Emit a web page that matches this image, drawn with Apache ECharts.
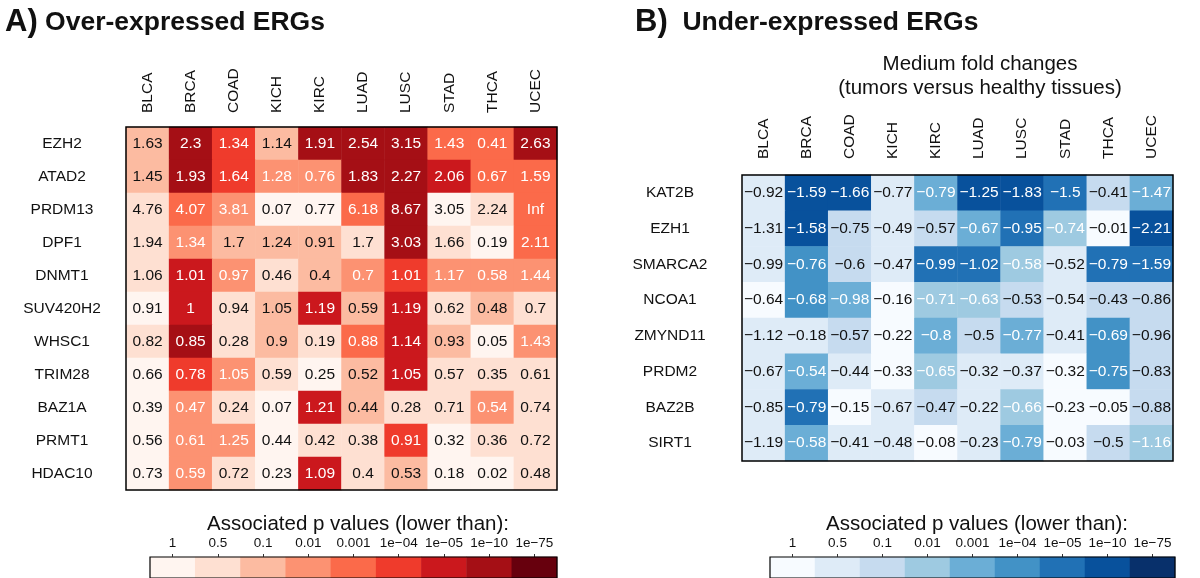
<!DOCTYPE html>
<html><head><meta charset="utf-8">
<script src="https://cdn.jsdelivr.net/npm/echarts@6/dist/echarts.min.js"></script>
<style>html,body{margin:0;padding:0;background:#fff}#c{width:1200px;height:578px}</style>
</head><body><div id="c"></div>
<script>
const cancers = ['BLCA','BRCA','COAD','KICH','KIRC','LUAD','LUSC','STAD','THCA','UCEC'];
const rowsA = ['EZH2','ATAD2','PRDM13','DPF1','DNMT1','SUV420H2','WHSC1','TRIM28','BAZ1A','PRMT1','HDAC10'];
const foldA = [
 ['1.63','2.3','1.34','1.14','1.91','2.54','3.15','1.43','0.41','2.63'],
 ['1.45','1.93','1.64','1.28','0.76','1.83','2.27','2.06','0.67','1.59'],
 ['4.76','4.07','3.81','0.07','0.77','6.18','8.67','3.05','2.24','Inf'],
 ['1.94','1.34','1.7','1.24','0.91','1.7','3.03','1.66','0.19','2.11'],
 ['1.06','1.01','0.97','0.46','0.4','0.7','1.01','1.17','0.58','1.44'],
 ['0.91','1','0.94','1.05','1.19','0.59','1.19','0.62','0.48','0.7'],
 ['0.82','0.85','0.28','0.9','0.19','0.88','1.14','0.93','0.05','1.43'],
 ['0.66','0.78','1.05','0.59','0.25','0.52','1.05','0.57','0.35','0.61'],
 ['0.39','0.47','0.24','0.07','1.21','0.44','0.28','0.71','0.54','0.74'],
 ['0.56','0.61','1.25','0.44','0.42','0.38','0.91','0.32','0.36','0.72'],
 ['0.73','0.59','0.72','0.23','1.09','0.4','0.53','0.18','0.02','0.48']
];
// p-value class (0 = p<1 ... 8 = p<1e-75)
const pClassA = [
 [2,7,5,2,7,7,7,4,4,7],
 [2,7,5,3,3,7,7,6,4,4],
 [1,4,3,0,0,4,7,0,1,4],
 [1,3,2,2,2,1,7,1,0,4],
 [1,6,3,1,2,3,5,3,3,3],
 [0,6,1,2,6,2,6,1,2,1],
 [1,7,1,2,1,4,6,2,0,3],
 [0,5,3,1,0,2,6,1,1,1],
 [0,3,1,0,6,2,1,1,3,1],
 [0,3,3,0,1,1,5,0,1,1],
 [0,3,1,0,6,1,2,0,0,1]
];
const rowsB = ['KAT2B','EZH1','SMARCA2','NCOA1','ZMYND11','PRDM2','BAZ2B','SIRT1'];
const foldB = [
 ['-0.92','-1.59','-1.66','-0.77','-0.79','-1.25','-1.83','-1.5','-0.41','-1.47'],
 ['-1.31','-1.58','-0.75','-0.49','-0.57','-0.67','-0.95','-0.74','-0.01','-2.21'],
 ['-0.99','-0.76','-0.6','-0.47','-0.99','-1.02','-0.58','-0.52','-0.79','-1.59'],
 ['-0.64','-0.68','-0.98','-0.16','-0.71','-0.63','-0.53','-0.54','-0.43','-0.86'],
 ['-1.12','-0.18','-0.57','-0.22','-0.8','-0.5','-0.77','-0.41','-0.69','-0.96'],
 ['-0.67','-0.54','-0.44','-0.33','-0.65','-0.32','-0.37','-0.32','-0.75','-0.83'],
 ['-0.85','-0.79','-0.15','-0.67','-0.47','-0.22','-0.66','-0.23','-0.05','-0.88'],
 ['-1.19','-0.58','-0.41','-0.48','-0.08','-0.23','-0.79','-0.03','-0.5','-1.16']
];
const pClassB = [
 [1,7,7,1,4,7,7,6,2,4],
 [1,7,2,1,2,4,6,3,0,7],
 [1,5,2,1,6,6,3,1,6,6],
 [0,5,4,0,3,3,2,1,2,2],
 [1,1,2,0,4,2,4,1,5,2],
 [1,4,1,0,3,1,1,0,5,2],
 [1,6,0,1,2,1,3,0,0,2],
 [1,4,1,1,0,1,4,0,2,3]
];
const pTicks = ['1','0.5','0.1','0.01','0.001','1e\u221204','1e\u221205','1e\u221210','1e\u221275'];
const reds = ['#FFF5F0','#FEE0D2','#FCBBA1','#FC9272','#FB6A4A','#EF3B2C','#CB181D','#A50F15','#67000D'];
const blues = ['#F7FBFF','#DEEBF7','#C6DBEF','#9ECAE1','#6BAED6','#4292C6','#2171B5','#08519C','#08306B'];

const FF = '"Liberation Sans", Arial, Helvetica, sans-serif';
function cells(fold, cls){
  const out=[];
  fold.forEach((r,i)=>r.forEach((v,j)=>{
    const c=cls[i][j];
    out.push({value:[j,i,c,v.replace('-','\u2212')], label:{color: c>=3?'#fff':'#111'}});
  }));
  return out;
}
const legendData = pTicks.map((t,i)=>[i,0,i]);

const chart = echarts.init(document.getElementById('c'), null, {renderer:'canvas'});
const gridBase = {show:true, borderColor:'#000', borderWidth:1.5, backgroundColor:'transparent', z:10};
const catX = (data, margin, fs) => ({type:'category', data, position:'top', axisLine:{show:false}, axisTick:{show:false}, splitLine:{show:false},
  axisLabel:{rotate:-90, margin, fontSize:fs, color:'#111', fontFamily:FF, interval:0}});
const catY = (data, margin) => ({type:'category', data, inverse:true, axisLine:{show:false}, axisTick:{show:false}, splitLine:{show:false},
  axisLabel:{margin, align:'center', fontSize:15.5, color:'#111', fontFamily:FF, interval:0}});
const legX = () => ({type:'category', data:pTicks, position:'top', axisLine:{show:false},
  axisTick:{show:true, alignWithLabel:true, length:3, interval:0, lineStyle:{color:'#333'}}, splitLine:{show:false},
  axisLabel:{margin:7, fontSize:13.5, color:'#111', fontFamily:FF, interval:0}});
const legY = () => ({type:'category', data:[''], axisLine:{show:false}, axisTick:{show:false}, axisLabel:{show:false}});

chart.setOption({
  animation:false,
  backgroundColor:'#fff',
  textStyle:{fontFamily:FF},
  title:[
    {text:'{a|A)} Over-expressed ERGs', left:0, top:2, textStyle:{fontSize:26.5, fontWeight:'bold', color:'#111', fontFamily:FF, rich:{a:{fontSize:31, fontWeight:'bold', color:'#111', fontFamily:FF}}}},
    {text:'{a|B)}  Under-expressed ERGs', left:630, top:2, textStyle:{fontSize:26.5, fontWeight:'bold', color:'#111', fontFamily:FF, rich:{a:{fontSize:31, fontWeight:'bold', color:'#111', fontFamily:FF}}}},
    {text:'Medium fold changes\n(tumors versus healthy tissues)', left:975, top:47, textAlign:'center', textStyle:{fontSize:20.5, fontWeight:'normal', color:'#111', lineHeight:24, fontFamily:FF}},
    {text:'Associated p values (lower than):', left:353, top:509, textAlign:'center', textStyle:{fontSize:20.5, fontWeight:'normal', color:'#111', fontFamily:FF}},
    {text:'Associated p values (lower than):', left:972, top:509, textAlign:'center', textStyle:{fontSize:20.5, fontWeight:'normal', color:'#111', fontFamily:FF}}
  ],
  grid:[
    Object.assign({left:126, top:127, width:431, height:363}, gridBase),
    Object.assign({left:742, top:175, width:431, height:286}, gridBase),
    Object.assign({left:150, top:557, width:407, height:22}, gridBase, {borderWidth:1.2}),
    Object.assign({left:770, top:557, width:405, height:22}, gridBase, {borderWidth:1.2})
  ],
  xAxis:[
    Object.assign(catX(cancers,14,15.5),{gridIndex:0}),
    Object.assign(catX(cancers,16,15.5),{gridIndex:1}),
    Object.assign(legX(),{gridIndex:2}),
    Object.assign(legX(),{gridIndex:3})
  ],
  yAxis:[
    Object.assign(catY(rowsA,64),{gridIndex:0}),
    Object.assign(catY(rowsB,72),{gridIndex:1}),
    Object.assign(legY(),{gridIndex:2}),
    Object.assign(legY(),{gridIndex:3})
  ],
  visualMap:[
    {type:'piecewise', show:false, dimension:2, seriesIndex:[0,2], pieces: reds.map((c,i)=>({value:i, color:c}))},
    {type:'piecewise', show:false, dimension:2, seriesIndex:[1,3], pieces: blues.map((c,i)=>({value:i, color:c}))}
  ],
  series:[
    {type:'heatmap', xAxisIndex:0, yAxisIndex:0, data:cells(foldA,pClassA),
      label:{show:true, formatter:p=>p.value[3], fontSize:15.5, fontFamily:FF}, itemStyle:{borderWidth:0}},
    {type:'heatmap', xAxisIndex:1, yAxisIndex:1, data:cells(foldB,pClassB),
      label:{show:true, formatter:p=>p.value[3], fontSize:15.5, fontFamily:FF}, itemStyle:{borderWidth:0}},
    {type:'heatmap', xAxisIndex:2, yAxisIndex:2, data:legendData, label:{show:false}},
    {type:'heatmap', xAxisIndex:3, yAxisIndex:3, data:legendData, label:{show:false}}
  ]
});
</script></body></html>
